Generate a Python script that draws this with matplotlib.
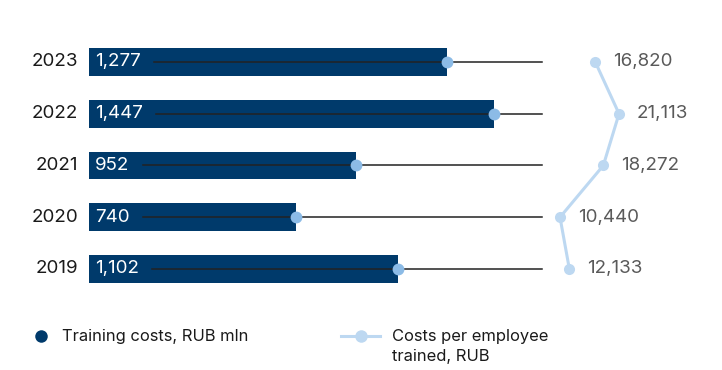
import matplotlib
matplotlib.use("Agg")
import matplotlib.pyplot as plt
from matplotlib.lines import Line2D

plt.rcParams['font.family'] = ['Inter', 'DejaVu Sans']

years = ["2023", "2022", "2021", "2020", "2019"]
training_costs = [1277, 1447, 952, 740, 1102]
cost_labels = ["1,277", "1,447", "952", "740", "1,102"]
per_employee = [16820, 21113, 18272, 10440, 12133]
per_employee_labels = ["16,820", "21,113", "18,272", "10,440", "12,133"]

BAR = "#003a6b"
DOT = "#8cbbe6"
LINE = "#bdd8f1"

fig = plt.figure(figsize=(7.22, 3.70), dpi=100)
ax = fig.add_axes([0, 0, 1, 1])
ax.set_xlim(-317.9, 2260.7)
ax.set_ylim(5.952, -1.198)
ax.axis('off')

pos = list(range(len(years)))
ax.barh(pos, training_costs, height=0.54, color=BAR, zorder=1)
texts = []
for i, (v, lab, yr) in enumerate(zip(training_costs, cost_labels, years)):
    t = ax.text(22, i, lab, color="white", fontsize=13.5, va="center", ha="left", zorder=3)
    texts.append(t)
    ax.text(-39, i, yr, color="#1a1a1a", fontsize=13.5, va="center", ha="right")

fig.canvas.draw()
r = fig.canvas.get_renderer()
inv = ax.transData.inverted()
for i, t in enumerate(texts):
    bb = t.get_window_extent(r)
    x0 = inv.transform((bb.x1 + 13, 0))[0]
    ax.plot([x0, 1618], [i, i], color="#222222", lw=1.1, zorder=2)
ax.plot(training_costs, pos, 'o', color=DOT, ms=8.5, zorder=4, mec="none")

ax2 = ax.twiny()
ax2.set_xlim(-90826, 39735)
ax2.axis('off')
ax2.plot(per_employee, pos, '-o', color=LINE, lw=2.2, ms=8, mec="none", zorder=3)
for i, (v, lab) in enumerate(zip(per_employee, per_employee_labels)):
    ax2.annotate(lab, (v, i), xytext=(13, 0), textcoords="offset points",
                 va="center", ha="left", color="#5a5a5a", fontsize=13.5)

# legend
ly = 1 - 336 / 370
fig.add_artist(Line2D([41 / 722], [ly], marker='o', color=BAR, ms=9, mec="none",
                      transform=fig.transFigure))
fig.text(62 / 722, ly, "Training costs, RUB mln", fontsize=11.9, color="#1a1a1a",
         va="center", ha="left")
fig.add_artist(Line2D([341 / 722, 380 / 722], [ly] * 2, color=LINE, lw=2.2,
                      transform=fig.transFigure))
fig.add_artist(Line2D([361 / 722], [ly], marker='o', color=LINE, ms=9, mec="none",
                      transform=fig.transFigure))
fig.text(392 / 722, ly, "Costs per employee", fontsize=11.9,
         color="#1a1a1a", va="center", ha="left")
fig.text(392 / 722, 1 - 357 / 370, "trained, RUB", fontsize=11.9,
         color="#1a1a1a", va="center", ha="left")

fig.savefig("out.png", dpi=100)
